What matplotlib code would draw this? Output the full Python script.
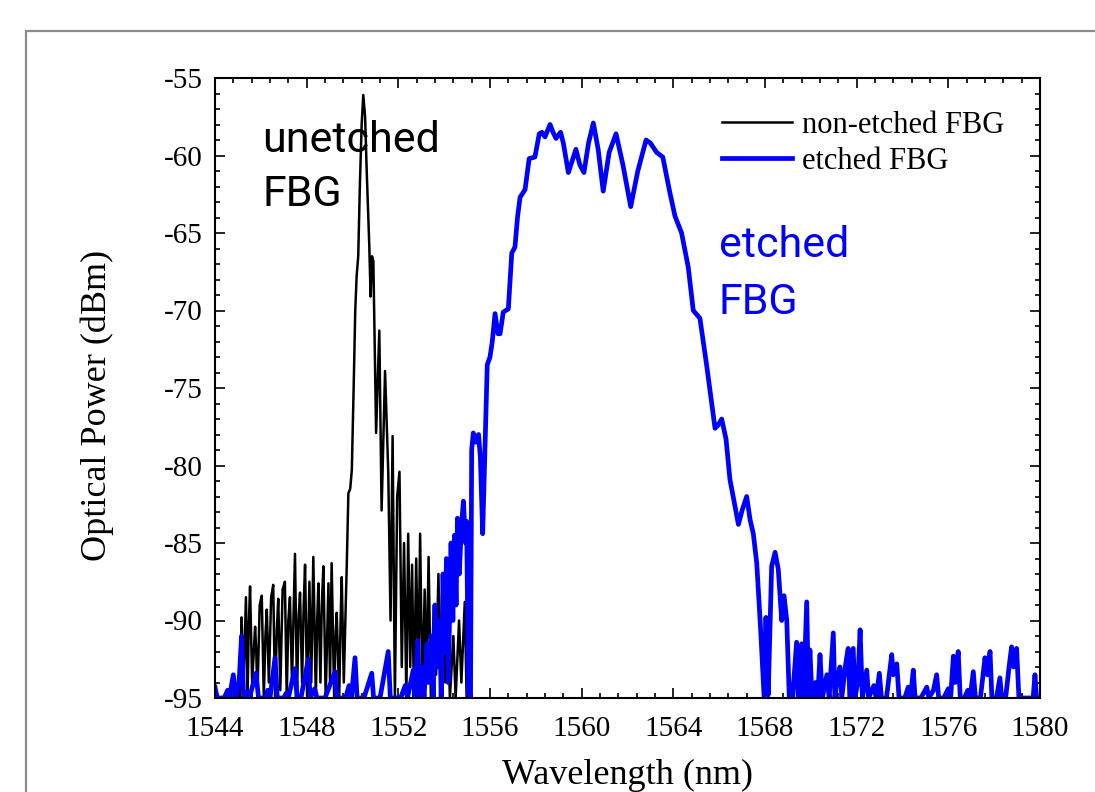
import matplotlib
matplotlib.use("Agg")
import matplotlib.pyplot as plt
from matplotlib.patches import Rectangle
from matplotlib.ticker import MultipleLocator

plt.rcParams['axes.unicode_minus'] = False

# non-etched FBG trace (wavelength nm, power dBm)
bk_wl = [1544.95, 1545.02, 1545.08, 1545.16, 1545.21, 1545.25, 1545.35, 1545.42, 1545.47, 1545.53,
         1545.62, 1545.75, 1545.80, 1545.85, 1545.95, 1546.04, 1546.13, 1546.20, 1546.26, 1546.35,
         1546.45, 1546.54, 1546.62, 1546.70, 1546.76, 1546.85, 1546.95, 1547.05, 1547.13, 1547.20,
         1547.27, 1547.36, 1547.49, 1547.58, 1547.64, 1547.71, 1547.80, 1547.87, 1547.93, 1548.02,
         1548.12, 1548.20, 1548.29, 1548.40, 1548.46, 1548.51, 1548.60, 1548.66, 1548.73, 1548.83,
         1548.95, 1549.02, 1549.09, 1549.20, 1549.26, 1549.31, 1549.42, 1549.48, 1549.53, 1549.62,
         1549.75, 1549.82, 1549.90, 1549.97, 1550.05, 1550.12, 1550.18, 1550.25, 1550.32, 1550.40,
         1550.47, 1550.55, 1550.62, 1550.73, 1550.79, 1550.85, 1550.91, 1551.03, 1551.17, 1551.27,
         1551.42, 1551.56, 1551.66, 1551.75, 1551.85, 1551.95, 1552.05, 1552.15, 1552.25, 1552.35,
         1552.43, 1552.52, 1552.60, 1552.68, 1552.78, 1552.87, 1552.95, 1553.05, 1553.15, 1553.23,
         1553.32, 1553.42, 1553.55, 1553.65, 1553.75, 1553.85, 1553.95, 1554.05, 1554.15, 1554.25,
         1554.40, 1554.50, 1554.65, 1554.75, 1554.90, 1554.98]
bk_db = [-95, -93.6, -95, -89.8, -92.5, -94, -88.5, -95, -90.5, -87.8,
         -94, -90.4, -92, -95, -89, -88.4, -95, -91, -89.3, -94,
         -88.5, -87.7, -95, -90.5, -88.6, -94.5, -88, -87.5, -95, -90,
         -88.5, -94, -85.7, -95, -90, -88.2, -94, -89, -86.4, -95,
         -87.5, -94, -85.9, -95, -90, -87.6, -94, -89, -86.5, -95,
         -87.6, -94, -86.3, -95, -91, -89.5, -95, -90, -87.2, -94,
         -86.4, -81.8, -81.5, -80.3, -75, -70, -67.8, -66.5, -62, -58,
         -56.1, -57.5, -61, -65.7, -69.1, -66.5, -66.8, -77.9, -71.3, -82.9,
         -73.9, -80.4, -90, -78.1, -95, -82, -80.4, -93, -85, -95,
         -84.4, -93, -86.4, -95, -86, -94, -84.4, -95, -88, -94,
         -85.9, -95, -89, -93.5, -87, -95, -88, -94, -89.5, -95,
         -91, -95, -90, -94, -88.8, -95]

# etched FBG trace
bl_wl = [1544.00, 1544.10, 1544.40, 1544.55, 1544.62, 1544.80, 1544.90, 1545.05, 1545.16, 1545.25,
         1545.40, 1545.50, 1545.79, 1545.90, 1546.20, 1546.30, 1546.40, 1546.62, 1546.72, 1547.00,
         1547.10, 1547.20, 1547.49, 1547.58, 1547.75, 1548.07, 1548.15, 1548.35, 1548.45, 1548.80,
         1549.24, 1549.32, 1549.70, 1549.85, 1549.95, 1550.11, 1550.20, 1550.50, 1550.84, 1550.92,
         1551.20, 1551.56, 1551.65, 1552.10, 1552.30, 1552.40, 1552.65, 1552.72, 1552.85, 1552.93,
         1553.05, 1553.12, 1553.25, 1553.32, 1553.45, 1553.52, 1553.60, 1553.68, 1553.80, 1553.87,
         1553.95, 1554.02, 1554.10, 1554.18, 1554.30, 1554.38, 1554.45, 1554.52, 1554.58, 1554.66,
         1554.75, 1554.84, 1554.93, 1554.98, 1555.06, 1555.15, 1555.20, 1555.27, 1555.38, 1555.50,
         1555.58, 1555.68, 1555.78, 1555.88, 1556.00, 1556.10, 1556.22, 1556.35, 1556.44, 1556.58,
         1556.80, 1556.95, 1557.09, 1557.20, 1557.31, 1557.53, 1557.71, 1557.96, 1558.15, 1558.27,
         1558.40, 1558.62, 1558.75, 1558.88, 1559.08, 1559.20, 1559.42, 1559.55, 1559.75, 1559.92,
         1560.10, 1560.30, 1560.51, 1560.72, 1560.94, 1561.20, 1561.50, 1561.80, 1562.14, 1562.45,
         1562.81, 1563.00, 1563.27, 1563.54, 1563.85, 1564.07, 1564.36, 1564.65, 1564.87, 1565.16,
         1565.46, 1565.82, 1565.95, 1566.11, 1566.30, 1566.47, 1566.84, 1567.00, 1567.20, 1567.35,
         1567.49, 1567.64, 1567.81, 1567.96, 1568.04, 1568.14, 1568.29, 1568.44, 1568.58, 1568.73,
         1568.83, 1568.95, 1569.06, 1569.20, 1569.30, 1569.38, 1569.45, 1569.55, 1569.60, 1569.68,
         1569.75, 1569.82, 1569.90, 1569.96, 1570.05, 1570.20, 1570.30, 1570.40, 1570.50, 1570.70,
         1570.80, 1570.98, 1571.05, 1571.15, 1571.27, 1571.35, 1571.50, 1571.63, 1571.70, 1571.85,
         1571.92, 1572.05, 1572.15, 1572.25, 1572.44, 1572.52, 1572.75, 1572.85, 1572.99, 1573.08,
         1573.30, 1573.53, 1573.60, 1573.75, 1573.85, 1574.10, 1574.25, 1574.35, 1574.47, 1574.55,
         1574.80, 1575.06, 1575.15, 1575.35, 1575.49, 1575.58, 1575.80, 1576.00, 1576.10, 1576.22,
         1576.30, 1576.43, 1576.52, 1576.70, 1576.85, 1576.95, 1577.09, 1577.18, 1577.40, 1577.60,
         1577.70, 1577.82, 1577.90, 1578.10, 1578.25, 1578.33, 1578.50, 1578.65, 1578.76, 1578.85,
         1578.98, 1579.08, 1579.30, 1579.50, 1579.70, 1579.78, 1579.85, 1580.00]
bl_db = [-94.3, -95, -95, -94.5, -95, -93.5, -95, -94, -91.0, -95,
         -94.6, -95, -93.4, -95, -95, -94.5, -95, -92.4, -95, -95,
         -94.7, -95, -93.1, -95, -95, -92.5, -95, -94.4, -95, -95,
         -93.3, -95, -95, -94.2, -95, -92.4, -95, -95, -93.4, -95,
         -95, -92, -95, -95, -94.2, -95, -93.2, -95, -91.3, -95,
         -93, -95, -91.5, -94, -91, -95, -89, -93, -90, -95,
         -87, -92, -86, -94, -85, -90, -84.5, -89, -83.4, -87,
         -84, -82.3, -85, -83.6, -95, -95, -79, -77.9, -78.5, -78,
         -79.5, -84.4, -79, -73.5, -73, -72, -70.2, -71.5, -71.5, -70.1,
         -69.9, -66.3, -65.9, -64, -62.7, -62.2, -60.2, -60.1, -58.6, -58.5,
         -58.8, -58, -58.5, -58.9, -58.5, -59.2, -61.1, -60.5, -59.6, -60.6,
         -61.1, -59.2, -57.9, -59.6, -62.3, -59.8, -58.6, -60.6, -63.3, -61,
         -59, -59.2, -59.8, -60.1, -62.4, -63.9, -65, -67.2, -70, -70.5,
         -73.6, -77.6, -77.4, -77.0, -78.3, -80.9, -83.8, -82.9, -82.0, -83.5,
         -84.4, -86.3, -90.6, -94.9, -89.8, -94.8, -86.5, -85.6, -86.7, -90,
         -88.4, -90, -95, -95, -93, -91.4, -95, -92.5, -91.5, -95,
         -92, -88.8, -95, -91.9, -95, -94, -95, -92.2, -95, -93.5,
         -95, -90.8, -95, -93.8, -93, -95, -93, -91.8, -95, -91.8,
         -95, -94, -90.6, -95, -93.2, -95, -94.2, -95, -93.4, -95,
         -95, -92.2, -93.5, -92.8, -95, -95, -94.3, -95, -93.2, -95,
         -95, -94.3, -95, -94.5, -93.5, -95, -95, -94.4, -95, -92.3,
         -94, -92, -95, -95, -94.5, -95, -93.3, -95, -95, -92.4,
         -93.5, -92, -95, -95, -93.7, -95, -95, -93, -91.7, -93,
         -91.8, -95, -95, -95, -95, -93.5, -95, -95]

fig = plt.figure(figsize=(10.95, 7.92), dpi=100)
fig.add_artist(Rectangle((26/1095, -0.1), 2, (792-31)/792 + 0.1, transform=fig.transFigure,
                         fill=False, edgecolor='#8c8c8c', lw=1.6, clip_on=False))

ax = fig.add_axes([215/1095, 94/792, 825/1095, 620/792])
ax.plot(bk_wl, bk_db, color='black', lw=1.8, label='non-etched FBG')
ax.plot(bl_wl, bl_db, color='#0000ff', lw=3.4, label='etched FBG', solid_joinstyle='round')

ax.set_xlim(1544, 1580)
ax.set_ylim(-95, -55)
ax.xaxis.set_major_locator(MultipleLocator(4))
ax.xaxis.set_minor_locator(MultipleLocator(0.8))
ax.yaxis.set_major_locator(MultipleLocator(5))
ax.yaxis.set_minor_locator(MultipleLocator(1))
ax.tick_params(which='both', direction='in', top=True, right=True, width=1.2)
ax.tick_params(which='major', length=7, labelsize=21, pad=9)
ax.tick_params(axis='x', which='major', pad=13)
ax.tick_params(which='minor', length=3.8)
for lab in ax.get_xticklabels() + ax.get_yticklabels():
    lab.set_family('Liberation Serif')
for s in ax.spines.values():
    s.set_linewidth(1.5)

leg = ax.legend(loc='upper left', bbox_to_anchor=(0.6145, 0.947), frameon=False,
                prop={'family': 'Liberation Serif', 'size': 22}, handlelength=2.3,
                handletextpad=0.33, labelspacing=0.22, borderpad=0, borderaxespad=0)

fig.text(97/1095, 1 - 405/792, 'Optical Power (dBm)', rotation=90, ha='center', va='center',
         family='Liberation Serif', fontsize=26)
fig.text(627/1095, 8/792, 'Wavelength (nm)', ha='center', va='baseline',
         family='Liberation Serif', fontsize=26)

# annotations
fig.text(262/1095, 1 - 152/792, 'unetched', family='Roboto', fontsize=31, color='black', va='baseline')
fig.text(262/1095, 1 - 206/792, 'FBG', family='Roboto', fontsize=31, color='black', va='baseline')
fig.text(719/1095, 1 - 257/792, 'etched', family='Roboto', fontsize=31, color='#0000ff', va='baseline')
fig.text(719/1095, 1 - 314/792, 'FBG', family='Roboto', fontsize=31, color='#0000ff', va='baseline')

fig.savefig('out.png', dpi=100)
